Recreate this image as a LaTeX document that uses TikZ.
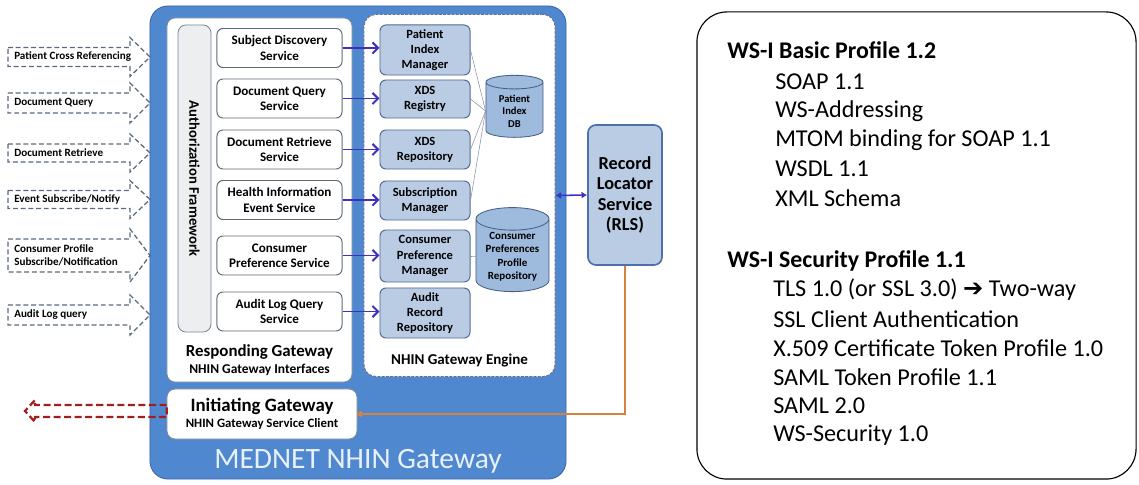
\documentclass[tikz,border=0pt]{standalone}
\usepackage{fontspec}
\setmainfont{Carlito}
\newfontfamily\symfont{DejaVu Sans}
\usetikzlibrary{arrows.meta,positioning,shapes.geometric}
\definecolor{GwBlue}{RGB}{80,136,208}
\definecolor{GwEdge}{RGB}{58,100,170}
\definecolor{GwText}{RGB}{232,240,250}
\definecolor{PanelEdge}{RGB}{120,135,155}
\definecolor{AuthFill}{RGB}{237,238,240}
\definecolor{AuthEdge}{RGB}{120,135,155}
\definecolor{SvcEdge}{RGB}{95,105,120}
\definecolor{EngDash}{RGB}{100,115,140}
\definecolor{EngFill}{RGB}{185,204,228}
\definecolor{EngEdge}{RGB}{80,105,145}
\definecolor{CylFill}{RGB}{158,186,220}
\definecolor{CylEdge}{RGB}{70,95,135}
\definecolor{RlsEdge}{RGB}{75,112,170}
\definecolor{CallBlue}{RGB}{64,48,190}
\definecolor{LinkGray}{RGB}{140,150,165}
\definecolor{LinkOrange}{RGB}{214,130,60}
\definecolor{OutRed}{RGB}{160,30,30}
\definecolor{InGray}{RGB}{90,105,125}
\newcommand{\fsz}[2]{\fontsize{#1}{#2}\selectfont}
\tikzset{
  gwframe/.style={draw=GwEdge,fill=GwBlue,line width=0.6pt,rounded corners=4.5mm},
  panel/.style={draw=PanelEdge,fill=white,line width=0.6pt,rounded corners=2mm},
  authbar/.style={draw=AuthEdge,fill=AuthFill,line width=0.6pt,rounded corners=2mm,
    font=\fsz{10.4}{12}\bfseries},
  svcbox/.style={draw=SvcEdge,fill=white,line width=0.7pt,rounded corners=1.5mm,
    minimum width=3.125cm,minimum height=0.975cm,align=center,inner sep=1pt,
    font=\fsz{9.3}{10.8}\bfseries},
  engframe/.style={draw=EngDash,fill=white,dash pattern=on 2pt off 1pt,
    line width=0.7pt,rounded corners=3mm},
  engbox/.style={draw=EngEdge,fill=EngFill,line width=0.7pt,rounded corners=1.5mm,
    minimum width=2.25cm,align=center,inner sep=1pt,font=\fsz{8.9}{10.7}\bfseries},
  dbcyl/.style={cylinder,shape border rotate=90,aspect=0.4,draw=CylEdge,
    fill=CylFill,line width=0.6pt,align=center,inner sep=1pt},
  rlsbox/.style={draw=RlsEdge,fill=EngFill,line width=1.2pt,rounded corners=2mm,
    minimum width=1.85cm,minimum height=3.5cm,align=center,
    font=\fsz{13}{14.4}\bfseries},
  callarrow/.style={-{Straight Barb[length=4pt,width=8pt]},line width=1.4pt,
    draw=CallBlue},
  rlsarrow/.style={{Latex[length=4pt,width=5pt]}-{Latex[length=4pt,width=5pt]},
    line width=1.1pt,draw=CallBlue},
  dblink/.style={draw=LinkGray,line width=0.4pt},
  rlslink/.style={-{Circle[length=4pt]},line width=1.5pt,draw=LinkOrange},
  inarrow/.style={draw=InGray,line width=0.9pt,dash pattern=on 3.5pt off 2pt},
  inlabel/.style={anchor=west,align=left,inner sep=0pt,font=\fsz{7.9}{9.4}\bfseries},
  outarrow/.style={draw=OutRed,line width=1.6pt,dash pattern=on 5pt off 2.5pt},
  profhead/.style={anchor=west,inner sep=0pt,font=\fsz{17}{20}\bfseries},
  profitem/.style={anchor=west,inner sep=0pt,font=\fsz{17.2}{20}},
}

\begin{document}
\begin{tikzpicture}[x=0.025cm,y=-0.025cm]
  \useasboundingbox (0,0) rectangle (1139,485);

  % gateway frame
  \node[gwframe,minimum width=10.4cm,minimum height=11.825cm] (gw) at (358,242.5) {};
  \node[text=GwText,font=\fsz{21}{24}] (gwname) at (358,461) {MEDNET NHIN Gateway};

  % responding gateway
  \node[panel,minimum width=4.625cm,minimum height=9.1cm] (resp) at (259.5,200) {};
  \node[authbar,rotate=-90,minimum width=7.675cm,minimum height=0.825cm] (auth) at (194.5,178.5) {Authorization Framework};
  \node[svcbox] (sd) at (279.5,48) {Subject Discovery\\Service};
  \node[svcbox] (dq) at (279.5,98.5) {Document Query\\Service};
  \node[svcbox] (dr) at (279.5,149.5) {Document Retrieve\\Service};
  \node[svcbox] (hi) at (279.5,200) {Health Information\\Event Service};
  \node[svcbox] (cp) at (279.5,255.5) {Consumer\\Preference Service};
  \node[svcbox] (al) at (279.5,311.5) {Audit Log Query\\Service};
  \node[font=\fsz{12}{13}\bfseries] (resptxt) at (259.5,352) {Responding Gateway};
  \node[font=\fsz{9.6}{10}\bfseries,below=-3.5pt of resptxt] (respsub) {NHIN Gateway Interfaces};

  % initiating gateway
  \node[panel,minimum width=4.75cm,minimum height=1.25cm,align=center,font=\bfseries] (init) at (262,414)
    {{\fsz{13.4}{15}Initiating Gateway}\\[-1pt]{\fsz{9.1}{10}NHIN Gateway Service Client}};

  % gateway engine
  \node[engframe,minimum width=4.775cm,minimum height=9.05cm] (eng) at (459.5,195.5) {};
  \node[font=\fsz{10.7}{12}\bfseries] (engtxt) at (459.5,360) {NHIN Gateway Engine};
  \node[engbox,minimum height=1.25cm] (pim) at (425,50) {Patient\\Index\\Manager};
  \node[engbox,minimum height=0.95cm] (reg) at (425,99) {XDS\\Registry};
  \node[engbox,minimum height=0.975cm] (rep) at (425,149.5) {XDS\\Repository};
  \node[engbox,minimum height=0.975cm] (sub) at (425,200.5) {Subscription\\Manager};
  \node[engbox,minimum height=1.3cm] (cpm) at (425,256) {Consumer\\Preference\\Manager};
  \node[engbox,minimum height=1.25cm] (arr) at (425,313) {Audit\\Record\\Repository};
  \node[dbcyl,minimum width=1.425cm,minimum height=1.55cm,font=\fsz{7.5}{9}\bfseries] (pidb) at (514.5,111) {Patient\\Index\\DB};
  \node[dbcyl,minimum width=1.825cm,minimum height=2.1cm,font=\fsz{7.8}{9.6}\bfseries] (cpr) at (512.5,257) {Consumer\\Preferences\\Profile\\Repository};

  % record locator
  \node[rlsbox] (rls) at (625,195) {Record\\Locator\\Service\\(RLS)};

  % calls into the engine
  \draw[callarrow] (sd.east) -- (sd.east -| pim.west);
  \draw[callarrow] (dq.east) -- (dq.east -| reg.west);
  \draw[callarrow] (dr.east) -- (dr.east -| rep.west);
  \draw[callarrow] (hi.east) -- (hi.east -| sub.west);
  \draw[callarrow] (cp.east) -- (cp.east -| cpm.west);
  \draw[callarrow] (al.east) -- (al.east -| arr.west);
  \foreach \src in {pim,reg,rep,sub}
    \draw[dblink] (\src.east) -- (pidb.west);
  \draw[dblink] (cpm) -- (cpr);
  \draw[rlsarrow] (eng.east) -- (rls.west);
  \draw[rlslink] (rls.south) |- (init.east);

  % incoming requests
  \foreach \yc/\bh/\lbl/\nm in {57/9.5/{Patient Cross Referencing}/inpcr,
      103/10/{Document Query}/indq, 153/9/{Document Retrieve}/indr,
      199.5/9/{Event Subscribe/Notify}/inev,
      255.5/16.5/{Consumer Profile\\Subscribe/Notification}/incp,
      315/10/{Audit Log query}/inal}{
    \draw[inarrow] (8,\yc-\bh) -- (130,\yc-\bh) -- (130,\yc-\bh-10) -- (150,\yc)
      -- (130,\yc+\bh+10) -- (130,\yc+\bh) -- (8,\yc+\bh) -- cycle;
    \node[inlabel] (\nm) at (14,\yc) {\lbl};
  }

  % outgoing requests
  \draw[outarrow] (init.west) ++(0,-9) -- (35,405) -- (35,400) -- (25,411)
    -- (35,422) -- (35,417) -- ++(132,0) -- cycle;

  % WS-I profiles
  \node[draw=black,line width=0.8pt,rounded corners=7.5mm,minimum width=10.975cm,minimum height=11.675cm] (wsi) at (916.5,245.5) {};
  \node[profhead] (basic) at (727,50) {WS-I Basic Profile 1.2};
  \foreach \txt [count=\i] in {SOAP 1.1, WS-Addressing, MTOM binding for SOAP 1.1,
      WSDL 1.1, XML Schema}
    \node[profitem] (bp\i) at (775,53+29*\i) {\txt};
  \node[profhead] (secur) at (727,261) {WS-I Security Profile 1.1};
  \foreach \txt [count=\i] in {{TLS 1.0 (or SSL 3.0) {\symfont\bfseries ➔} Two-way},
      SSL Client Authentication, X.509 Certificate Token Profile 1.0,
      SAML Token Profile 1.1, SAML 2.0, WS-Security 1.0}
    \node[profitem] (sp\i) at (773,261+29*\i) {\txt};
\end{tikzpicture}
\end{document}
